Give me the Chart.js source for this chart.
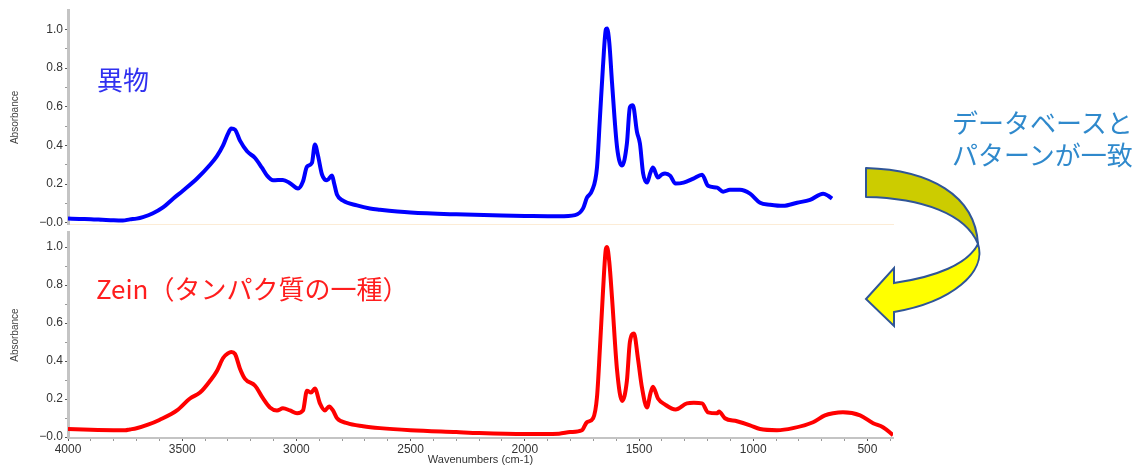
<!DOCTYPE html>
<html>
<head>
<meta charset="utf-8">
<script src="https://cdn.jsdelivr.net/npm/chart.js@4/dist/chart.umd.min.js"></script>
<style>
  body { margin: 0; background: #fff; width: 1146px; height: 467px; overflow: hidden; position: relative; }
  .box { position: absolute; left: 0; width: 1146px; }
  .note { position: absolute; font-family: "Noto Sans CJK JP", sans-serif; font-size: 26px; line-height: 1; white-space: nowrap; }
</style>
</head>
<body>
<div class="box" style="top:0;height:234px"><canvas id="topChart"></canvas></div>
<div class="box" style="top:223px;height:244px"><canvas id="botChart"></canvas></div>

<div class="note" style="left:97px;top:66px;color:#3030f0">異物</div>
<div class="note" style="left:96px;top:275px;color:#ff1e1e">Zein（タンパク質の一種）</div>
<div class="note" style="left:952px;top:109px;color:#2f89cc">データベースと</div>
<div class="note" style="left:952px;top:141px;color:#2f89cc">パターンが一致</div>

<svg style="position:absolute;left:0;top:0" width="1146" height="467">
  <path d="M866 168 C930 170 975 195 978 244 C966 214 922 198 866 197 Z"
        fill="#cccc00" stroke="#2f5597" stroke-width="2" stroke-linejoin="round"/>
  <path d="M978 244 C987 272 952 302 894 312 L894 326 L866 299 L894 268 L894 283 C936 277 968 264 978 244 Z"
        fill="#ffff00" stroke="#2f5597" stroke-width="2" stroke-linejoin="miter"/>
</svg>

<script>
// 異物 spectrum (blue, top)
const wnTop = [4000, 3950, 3900, 3850, 3800, 3760, 3729, 3700, 3672, 3628, 3584, 3540, 3497, 3435, 3378, 3348,
  3321, 3300, 3285, 3269, 3247, 3216, 3181, 3151, 3129, 3102, 3059, 3028, 2993, 2971, 2954, 2932, 2919, 2905,
  2888, 2866, 2844, 2835, 2822, 2796, 2735, 2678, 2634, 2500, 2300, 2100, 2000, 1850, 1780, 1745, 1728, 1706,
  1684, 1671, 1658, 1645, 1640, 1630, 1618, 1596, 1574, 1553, 1540, 1527, 1509, 1496, 1482, 1465, 1450, 1439,
  1417, 1400, 1386, 1364, 1340, 1305, 1262, 1224, 1198, 1158, 1132, 1102, 1058, 1014, 970, 926, 869, 808, 751,
  694, 672, 655];
const absTop = [0.022, 0.020, 0.019, 0.016, 0.013, 0.012, 0.018, 0.022, 0.030, 0.050, 0.080, 0.125, 0.166, 0.229,
  0.300, 0.345, 0.400, 0.460, 0.488, 0.482, 0.425, 0.370, 0.335, 0.285, 0.245, 0.220, 0.222, 0.205, 0.177, 0.215,
  0.290, 0.310, 0.405, 0.345, 0.250, 0.220, 0.245, 0.205, 0.145, 0.115, 0.090, 0.074, 0.068, 0.054, 0.044, 0.038,
  0.036, 0.034, 0.040, 0.075, 0.130, 0.166, 0.286, 0.545, 0.805, 1.000, 1.005, 0.930, 0.722, 0.390, 0.296, 0.410,
  0.597, 0.608, 0.470, 0.410, 0.255, 0.208, 0.260, 0.286, 0.234, 0.250, 0.255, 0.244, 0.203, 0.208, 0.229, 0.249,
  0.192, 0.182, 0.161, 0.171, 0.171, 0.151, 0.104, 0.094, 0.088, 0.104, 0.119, 0.151, 0.140, 0.125];

// Zein spectrum (red, bottom)
const wnBot = [4000, 3900, 3800, 3750, 3729, 3700, 3650, 3600, 3523, 3466, 3422, 3378, 3348, 3321, 3300, 3285,
  3269, 3247, 3225, 3181, 3146, 3116, 3085, 3059, 3028, 2997, 2971, 2954, 2936, 2919, 2897, 2875, 2857, 2840,
  2822, 2778, 2708, 2634, 2500, 2300, 2200, 2000, 1850, 1802, 1750, 1728, 1701, 1684, 1671, 1658, 1645, 1640,
  1630, 1618, 1596, 1574, 1553, 1540, 1522, 1505, 1487, 1465, 1450, 1439, 1417, 1386, 1340, 1290, 1260, 1224,
  1198, 1158, 1150, 1124, 1071, 1014, 970, 896, 826, 738, 686, 650, 607, 532, 475, 432, 388];
const absBot = [0.042, 0.038, 0.036, 0.036, 0.040, 0.046, 0.065, 0.090, 0.140, 0.203, 0.234, 0.296, 0.348, 0.416,
  0.440, 0.448, 0.438, 0.360, 0.306, 0.270, 0.203, 0.156, 0.140, 0.151, 0.140, 0.125, 0.140, 0.244, 0.234, 0.255,
  0.177, 0.140, 0.161, 0.140, 0.099, 0.073, 0.057, 0.047, 0.036, 0.026, 0.021, 0.016, 0.018, 0.026, 0.036, 0.078,
  0.099, 0.210, 0.470, 0.760, 0.990, 1.000, 0.920, 0.730, 0.350, 0.190, 0.296, 0.500, 0.545, 0.416, 0.260, 0.156,
  0.230, 0.265, 0.203, 0.171, 0.145, 0.177, 0.180, 0.177, 0.130, 0.125, 0.135, 0.099, 0.083, 0.062, 0.042, 0.036,
  0.047, 0.078, 0.114, 0.125, 0.130, 0.114, 0.073, 0.052, 0.010];

const xMin = 388, xMax = 4000;
const yTickValues = [0, 0.05, 0.1, 0.15, 0.2, 0.25, 0.3, 0.35, 0.4, 0.45, 0.5, 0.55, 0.6, 0.65, 0.7, 0.75, 0.8, 0.85, 0.9, 0.95, 1.0, 1.05];
const xTickValues = [];
for (let v = 400; v <= 4000; v += 100) xTickValues.push(v);

const tickFont = { family: "'Liberation Sans', Arial, sans-serif", size: 12 };
const isMajorY = v => Math.round(v * 100) % 20 === 0;

function yScale(min, max) {
    return {
        min: min, max: max,
        afterFit: s => { s.width = 68; },
        afterBuildTicks: s => { s.ticks = yTickValues.map(v => ({ value: v })); },
        border: { color: '#c4c4c4', width: 3 },
        grid: {
            drawOnChartArea: false, tickLength: 3,
            tickColor: ctx => isMajorY(ctx.tick.value) ? '#555' : '#999'
        },
        ticks: {
            color: '#333', font: tickFont, padding: 2,
            callback: v => isMajorY(v) ? (v === 0 ? '\u22120.0' : v.toFixed(1)) : ''
        },
        title: {
            display: true, text: 'Absorbance', color: '#444',
            font: { family: "'Liberation Sans', Arial, sans-serif", size: 10 },
            padding: { top: 9, bottom: 0 }
        }
    };
}

function makeData(wn, ab, color) {
    return {
        datasets: [{
            data: wn.map((w, i) => ({ x: w, y: ab[i] })),
            borderColor: color,
            borderWidth: 4,
            pointRadius: 0,
            cubicInterpolationMode: 'monotone',
            fill: false
        }]
    };
}

// top chart: 異物
new Chart("topChart", {
    type: "line",
    data: makeData(wnTop, absTop, '#0000ff'),
    options: {
        responsive: true, maintainAspectRatio: false, animation: false,
        layout: { padding: { top: 10, right: 253, bottom: 0, left: 0 } },
        plugins: { legend: { display: false }, tooltip: { enabled: false } },
        scales: {
            x: {
                type: 'linear', reverse: true, min: xMin, max: xMax,
                afterFit: s => { s.height = 3; },
                border: { color: '#fcecd6', width: 1 },
                grid: { display: false },
                ticks: { display: false }
            },
            y: yScale(-0.01, 1.1)
        }
    }
});

// bottom chart: Zein
new Chart("botChart", {
    type: "line",
    data: makeData(wnBot, absBot, '#ff0000'),
    options: {
        responsive: true, maintainAspectRatio: false, animation: false,
        layout: { padding: { top: 0, right: 253, bottom: 0, left: 0 } },
        plugins: { legend: { display: false }, tooltip: { enabled: false } },
        scales: {
            x: {
                type: 'linear', reverse: true, min: xMin, max: xMax,
                afterFit: s => { s.height = 29; },
                afterBuildTicks: s => { s.ticks = xTickValues.map(v => ({ value: v })); },
                border: { color: '#c4c4c4', width: 2 },
                grid: {
                    drawOnChartArea: false, tickLength: 3,
                    tickColor: ctx => ctx.tick.value % 500 === 0 ? '#555' : '#999'
                },
                ticks: {
                    color: '#333', font: tickFont, padding: 1, maxRotation: 0, autoSkip: false,
                    callback: v => v % 500 === 0 ? String(v) : ''
                },
                title: {
                    display: true, text: 'Wavenumbers (cm-1)', color: '#333',
                    font: { family: "'Liberation Sans', Arial, sans-serif", size: 11 },
                    padding: { top: 0, bottom: 0 }
                }
            },
            y: yScale(-0.005, 1.078)
        }
    }
});
</script>
</body>
</html>
